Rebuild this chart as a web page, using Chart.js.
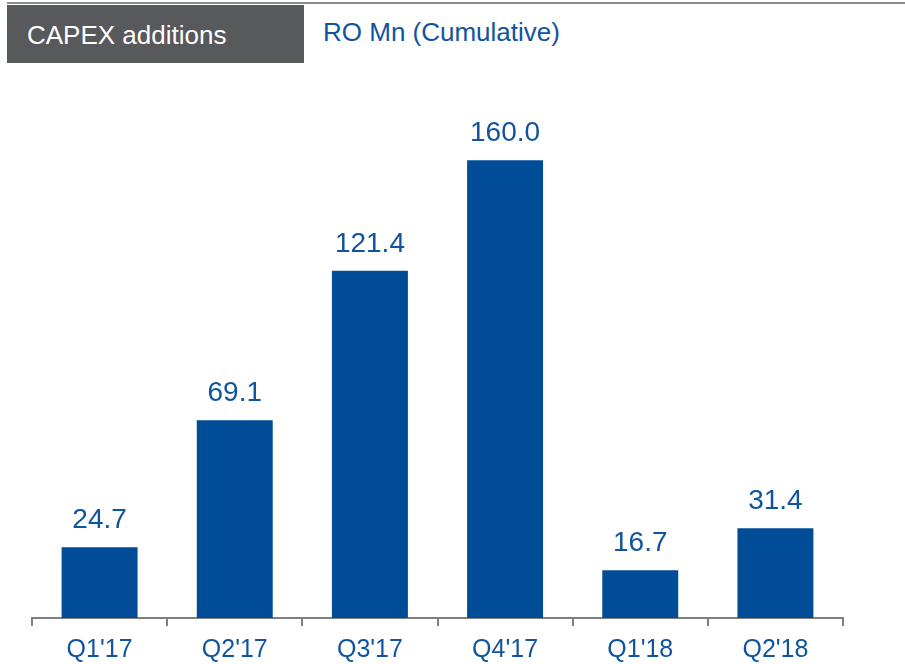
<!DOCTYPE html>
<html>
<head>
<meta charset="utf-8">
<script src="https://cdn.jsdelivr.net/npm/chart.js@4/dist/chart.umd.min.js"></script>
<style>
  html, body { margin: 0; padding: 0; background: #ffffff; }
  body { width: 905px; height: 664px; position: relative; overflow: hidden; font-family: "Liberation Sans", Arial, sans-serif; }
  #topline { position: absolute; left: 7px; top: 2px; width: 898px; height: 2px; background: #8a8a8a; }
  #box { position: absolute; left: 7px; top: 5px; width: 297px; height: 58px; background: #58595b; }
  #boxText { position: absolute; left: 27px; top: 20px; color: #ffffff; font-size: 26px; line-height: 30px; white-space: nowrap; }
  #unit { position: absolute; left: 323px; top: 17px; color: #10549e; font-size: 26px; line-height: 30px; white-space: nowrap; }
  #chartWrap { position: absolute; left: 0; top: 0; width: 905px; height: 674px; }
</style>
</head>
<body>
<div id="topline"></div>
<div id="box"></div>
<div id="boxText">CAPEX additions</div>
<div id="unit">RO Mn (Cumulative)</div>
<div id="chartWrap"><canvas id="c" width="905" height="674"></canvas></div>
<script>
const categories = ["Q1'17", "Q2'17", "Q3'17", "Q4'17", "Q1'18", "Q2'18"];
const capexValues = [24.7, 69.1, 121.4, 160.0, 16.7, 31.4];

const barColor = '#004c97';
const textColor = '#10549e';
const fontFamily = '"Liberation Sans", Arial, sans-serif';

const valueLabels = {
  id: 'valueLabels',
  afterDatasetsDraw(chart) {
    const ctx = chart.ctx;
    const meta = chart.getDatasetMeta(0);
    ctx.save();
    ctx.font = '28px ' + fontFamily;
    ctx.fillStyle = textColor;
    ctx.textAlign = 'center';
    ctx.textBaseline = 'alphabetic';
    meta.data.forEach((bar, i) => {
      const v = chart.data.datasets[0].data[i];
      ctx.fillText(v.toFixed(1), bar.x, bar.y - 19);
    });
    ctx.restore();
  }
};

new Chart(document.getElementById('c'), {
  type: 'bar',
  data: {
    labels: categories,
    datasets: [{
      data: capexValues,
      backgroundColor: barColor,
      borderWidth: 0,
      barPercentage: 0.562,
      categoryPercentage: 1.0
    }]
  },
  options: {
    responsive: false,
    animation: false,
    layout: { padding: { left: 32, right: 62, top: 103, bottom: 0 } },
    plugins: {
      legend: { display: false },
      tooltip: { enabled: false }
    },
    scales: {
      y: { display: false, min: 0, max: 180 },
      x: {
        offset: true,
        grid: {
          display: true,
          offset: true,
          drawOnChartArea: false,
          drawTicks: true,
          tickLength: 8,
          color: '#7f7f7f',
          lineWidth: 2
        },
        border: { display: true, color: '#7f7f7f', width: 2 },
        ticks: {
          color: textColor,
          font: { size: 25, family: fontFamily },
          padding: 9,
          maxRotation: 0
        }
      }
    }
  },
  plugins: [valueLabels]
});
</script>
</body>
</html>
